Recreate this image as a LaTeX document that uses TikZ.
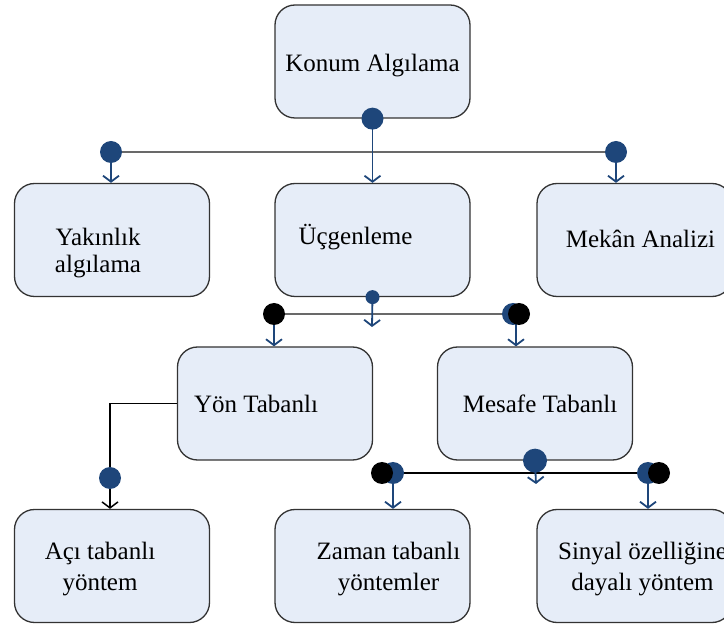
\documentclass[tikz,border=0pt]{standalone}
\usepackage{fontspec}
\setmainfont{Liberation Serif}
\usetikzlibrary{arrows.meta}
\definecolor{boxfill}{RGB}{230,237,248}
\definecolor{dotblue}{RGB}{30,70,122}
\definecolor{linegray}{RGB}{105,105,105}
\tikzset{
  box/.style={draw=black!80, line width=1.3pt, fill=boxfill, rounded corners=20pt,
    minimum width=195pt, minimum height=113pt, inner sep=0pt},
  lbl/.style={font=\fontsize{25}{31}\selectfont, align=center, inner sep=0pt},
  arr/.style={-{Straight Barb[length=6pt,width=16pt]}, line width=1.8pt, draw=dotblue},
  blkarr/.style={-{Straight Barb[length=6pt,width=16pt]}, line width=1.5pt, draw=black},
  bar/.style={line width=2pt, draw=linegray},
}
\begin{document}
\begin{tikzpicture}[x=1pt,y=-1pt]
\clip (0,0) rectangle (724,628);
% boxes
\node[box] (konum) at (372.5,61.5) {};
\node[box] (yak) at (112,240) {};
\node[box] (ucg) at (372.5,240) {};
\node[box] (mek) at (634.5,240) {};
\node[box] (yon) at (275,403.5) {};
\node[box] (mes) at (535,403.5) {};
\node[box] (aci) at (112,566) {};
\node[box] (zam) at (372.5,566) {};
\node[box] (sin) at (634.5,566) {};
% texts
\node[lbl] (konumT) at ([yshift=-4]konum.center) {Konum Algılama};
\node[lbl, font=\fontsize{25}{27}\selectfont] (yakT) at ([xshift=-14,yshift=-13]yak.center) {Yakınlık\\algılama};
\node[lbl] (ucgT) at ([xshift=-17,yshift=3]ucg.center) {Üçgenleme};
\node[lbl] (mekT) at ([xshift=6,yshift=1]mek.center) {Mekân Analizi};
\node[lbl] (yonT) at ([xshift=-19]yon.center) {Yön Tabanlı};
\node[lbl] (mesT) at ([xshift=5]mes.center) {Mesafe Tabanlı};
\node[lbl] (aciT) at ([xshift=-12,yshift=-3]aci.center) {Açı tabanlı\\yöntem};
\node[lbl] (zamT) at ([xshift=16,yshift=-3]zam.center) {Zaman tabanlı\\yöntemler};
\node[lbl] (sinT) at ([xshift=8,yshift=-3]sin.center) {Sinyal özelliğine\\dayalı yöntem};
% first level
\coordinate (k1) at (111,152);
\coordinate (k2) at (616,152);
\draw[bar] (k1) -- (k2);
\draw[arr] (konum.south) -- (ucg.north);
\draw[arr] (k1) -- (k1 |- yak.north);
\draw[arr] (k2) -- (k2 |- mek.north);
\fill[dotblue] (konum.south) circle (11);
\fill[dotblue] (k1) circle (11);
\fill[dotblue] (k2) circle (11);
% second level
\coordinate (u0) at (372,327);
\coordinate (u1) at (274,314);
\coordinate (u2) at (516,314);
\draw[bar] (u1) -- (518,314);
\draw[arr] (ucg.south) -- (u0);
\draw[arr] (u1) -- (u1 |- yon.north);
\draw[arr] (u2) -- (u2 |- mes.north);
\fill[dotblue] (ucg.south) circle (7);
\fill[dotblue] (513,314) circle (11);
\fill[black] (u1) circle (11);
\fill[black] (519,314) circle (11);
% yon tabanli
\coordinate (y1) at (110,478);
\draw[line width=1.5pt] (yon.west) -| (y1);
\draw[blkarr] (y1) -- (y1 |- aci.north);
\fill[dotblue] (y1) circle (11);
% mesafe tabanli
\coordinate (m0) at (536,484);
\coordinate (m1) at (393,473);
\coordinate (m2) at (648,473);
\draw[line width=1.5pt] (382,473) -- (659,473);
\draw[arr] (mes.south) -- (m0);
\draw[arr] (m1) -- (m1 |- zam.north);
\draw[arr] (m2) -- (m2 |- sin.north);
\fill[dotblue] (mes.south) circle (12);
\fill[dotblue] (m1) circle (11);
\fill[dotblue] (m2) circle (11);
\fill[black] (382,473) circle (11);
\fill[black] (659,473) circle (11);
\end{tikzpicture}
\end{document}
